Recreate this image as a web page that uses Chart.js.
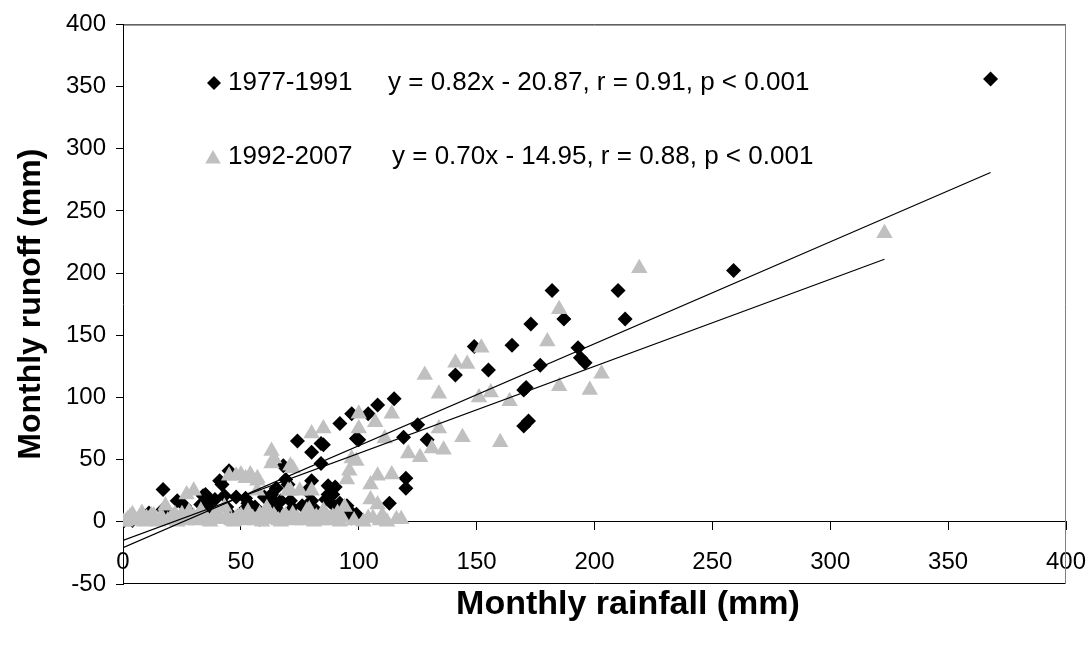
<!DOCTYPE html>
<html>
<head>
<meta charset="utf-8">
<script src="https://cdn.jsdelivr.net/npm/chart.js@4.4.1/dist/chart.umd.min.js"></script>
<style>
  html, body { margin: 0; padding: 0; background: #fff; }
  #wrap { width: 1092px; height: 649px; position: relative; }
</style>
</head>
<body>
<div id="wrap"><canvas id="chart"></canvas></div>
<script>
const seriesNames = ["1977-1991", "1992-2007"];
const equations = [
  "y = 0.82x - 20.87, r = 0.91, p < 0.001",
  "y = 0.70x - 14.95, r = 0.88, p < 0.001"
];
const xTitle = "Monthly rainfall (mm)";
const yTitle = "Monthly runoff (mm)";

// 1977-1991 (black diamonds)
const rainA = [0, 4, 11, 17, 17, 20, 23, 26, 28, 30, 33, 34, 35, 37, 37, 39, 41, 42, 43, 44,
  45, 46, 48, 51, 52, 53, 53, 56, 58, 60, 62, 63, 64, 65, 65, 65, 67, 68, 69, 70,
  72, 71, 74, 76, 78, 80, 80, 80, 82, 84, 84, 85, 86, 87, 87, 89, 89, 90, 92, 92,
  94, 95, 97, 97, 97, 99, 99, 100, 104, 108, 113, 115, 119, 120, 120, 125, 129, 141, 149, 155,
  165, 170, 170, 171, 172, 173, 177, 182, 187, 193, 194, 196, 210, 213, 259, 368];
const runoffA = [0, 1, 7, 26, 10, 5, 17, 13, 8, 3, 14, 21, 22, 17, 10, 18, 33, 30, 21, 12,
  41, 5, 20, 9, 19, 15, 10, 12, 2, 20, 8, 22, 17, 27, 11, 6, 17, 45, 34, 30,
  11, 17, 65, 13, 25, 56, 33, 17, 9, 47, 63, 62, 18, 29, 22, 22, 14, 28, 79, 15,
  9, 13, 87, 7, 3, 67, 6, 66, 87, 94, 15, 99, 68, 35, 27, 78, 66, 118, 141, 122,
  142, 106, 77, 108, 81, 159, 126, 186, 163, 140, 132, 128, 186, 163, 202, 356];

// 1992-2007 (grey triangles)
const rainB = [0, 2, 4, 6, 8, 10, 12, 14, 16, 18, 20, 22, 24, 26, 27, 28, 30, 30, 32, 34,
  36, 38, 40, 42, 44, 45, 46, 48, 48, 50, 50, 52, 52, 54, 54, 56, 57, 57, 57, 58,
  60, 62, 63, 63, 64, 64, 66, 68, 70, 70, 71, 71, 72, 72, 74, 75, 76, 78, 78, 80,
  80, 80, 82, 84, 85, 85, 86, 88, 90, 95, 96, 97, 100, 100, 99, 105, 105, 106, 107, 108,
  108, 110, 111, 114, 114, 116, 121, 126, 128, 131, 134, 134, 136, 141, 144, 146, 151, 152, 156, 160,
  164, 180, 185, 185, 198, 203, 219, 323,
  1, 3, 5, 7, 9, 11, 13, 15, 17, 19, 21, 23, 25, 29, 31, 33, 35, 37, 39, 41,
  43, 47, 49, 51, 53, 55, 59, 61, 65, 67, 69, 73, 77, 79, 81, 83, 87, 89, 91, 92,
  93, 94, 98, 102, 104, 109, 112, 118];
const runoffB = [0, 2, 6, 1, 7, 3, 5, 1, 4, 13, 2, 6, 3, 1, 22, 8, 25, 4, 2, 5,
  1, 3, 6, 2, 4, 37, 1, 37, 3, 5, 38, 35, 2, 38, 4, 1, 35, 33, 25, 6,
  3, 2, 57, 47, 51, 5, 1, 4, 25, 2, 45, 25, 43, 6, 3, 25, 1, 9, 5, 71,
  25, 2, 4, 1, 75, 9, 6, 3, 2, 34, 41, 51, 87, 75, 49, 30, 18, 3, 80, 37,
  14, 5, 67, 87, 38, 2, 55, 52, 118, 59, 103, 75, 58, 128, 68, 127, 100, 140, 104, 64,
  97, 145, 171, 109, 106, 119, 204, 232,
  0, 4, 1, 3, 0, 2, 5, 0, 2, 1, 4, 0, 6, 2, 1, 9, 3, 0, 5, 2,
  12, 0, 4, 1, 8, 3, 0, 11, 2, 0, 5, 1, 3, 10, 0, 2, 1, 4, 7, 0,
  3, 12, 1, 0, 3, 1, 0, 2];

// regression lines (slope, intercept, x range)
const fitA = { slope: 0.82, intercept: -20.87, xFrom: 0, xTo: 368 };
const fitB = { slope: 0.70, intercept: -14.95, xFrom: 0, xTo: 323 };

const FONT = "'Liberation Sans', Arial, sans-serif";

function toPoints(xs, ys) {
  return xs.map((x, i) => ({ x: x, y: ys[i] }));
}

function fitLine(f) {
  return [
    { x: f.xFrom, y: f.slope * f.xFrom + f.intercept },
    { x: f.xTo, y: f.slope * f.xTo + f.intercept }
  ];
}

const framePlugin = {
  id: "frame",
  afterDraw(chart) {
    const { ctx, chartArea: a } = chart;
    ctx.save();
    ctx.lineWidth = 1;
    ctx.strokeStyle = "#000";
    ctx.beginPath();
    ctx.moveTo(a.left, a.top + 0.5);
    ctx.lineTo(a.right, a.top + 0.5);
    ctx.moveTo(a.left, a.bottom - 0.5);
    ctx.lineTo(a.right, a.bottom - 0.5);
    ctx.stroke();
    ctx.strokeStyle = "#808080";
    ctx.beginPath();
    ctx.moveTo(a.right - 0.5, a.top);
    ctx.lineTo(a.right - 0.5, a.bottom);
    ctx.stroke();

    // x axis title
    ctx.fillStyle = "#000";
    ctx.font = "bold 34px " + FONT;
    ctx.textAlign = "center";
    ctx.textBaseline = "middle";
    ctx.fillText(xTitle, 628, 605);

    // legend with equations
    ctx.font = "26px " + FONT;
    ctx.textAlign = "left";
    const rows = [
      { style: "rectRot", radius: 7, color: "#000", mx: 214, y: 83 },
      { style: "triangle", radius: 9, color: "#C0C0C0", mx: 213, y: 157 }
    ];
    rows.forEach((r, i) => {
      ctx.fillStyle = r.color;
      ctx.strokeStyle = r.color;
      Chart.helpers.drawPoint(ctx, { pointStyle: r.style, radius: r.radius, borderWidth: 0 }, r.mx, r.y + (i ? 2 : 0));
      ctx.fillStyle = "#000";
      ctx.fillText(seriesNames[i], 228, r.y);
      ctx.fillText(equations[i], 388 + i * 4, r.y);
    });
    ctx.restore();
  }
};

new Chart(document.getElementById("chart"), {
  type: "scatter",
  data: {
    datasets: [
      {
        label: seriesNames[0],
        data: toPoints(rainA, runoffA),
        pointStyle: "rectRot",
        pointRadius: 7.5,
        pointHoverRadius: 7.5,
        backgroundColor: "#000",
        borderColor: "#000",
        borderWidth: 0,
        order: 2
      },
      {
        label: seriesNames[1],
        data: toPoints(rainB, runoffB),
        pointStyle: "triangle",
        pointRadius: 9.5,
        pointHoverRadius: 9.5,
        backgroundColor: "#C0C0C0",
        borderColor: "#C0C0C0",
        borderWidth: 0,
        order: 1
      },
      {
        type: "line",
        label: "fit A",
        data: fitLine(fitA),
        borderColor: "#000",
        borderWidth: 1.2,
        pointRadius: 0,
        fill: false,
        order: 0
      },
      {
        type: "line",
        label: "fit B",
        data: fitLine(fitB),
        borderColor: "#000",
        borderWidth: 1.2,
        pointRadius: 0,
        fill: false,
        order: 0
      }
    ]
  },
  options: {
    responsive: true,
    maintainAspectRatio: false,
    animation: false,
    layout: { padding: { top: 23, right: 26, bottom: 65, left: 0 } },
    plugins: {
      legend: { display: false },
      tooltip: { enabled: false }
    },
    scales: {
      x: {
        type: "linear",
        min: 0,
        max: 400,
        position: { y: 0 },
        ticks: { stepSize: 50, color: "#000", font: { family: FONT, size: 24 }, padding: 18 },
        grid: { drawOnChartArea: false, drawTicks: true, tickLength: 8, color: "#000" },
        border: { display: true, color: "#000", width: 1 },
        afterFit(scale) { scale.paddingLeft = 0; scale.paddingRight = 0; }
      },
      y: {
        type: "linear",
        min: -50,
        max: 400,
        ticks: { stepSize: 50, color: "#000", font: { family: FONT, size: 24 }, padding: 10 },
        grid: { drawOnChartArea: false, drawTicks: true, tickLength: 7, color: "#000" },
        border: { display: true, color: "#000", width: 1 },
        title: {
          display: true,
          text: yTitle,
          color: "#000",
          font: { family: FONT, size: 32, weight: "bold" },
          padding: { top: 12 }
        },
        afterFit(scale) { scale.width = 123; }
      }
    }
  },
  plugins: [framePlugin]
});
</script>
</body>
</html>
